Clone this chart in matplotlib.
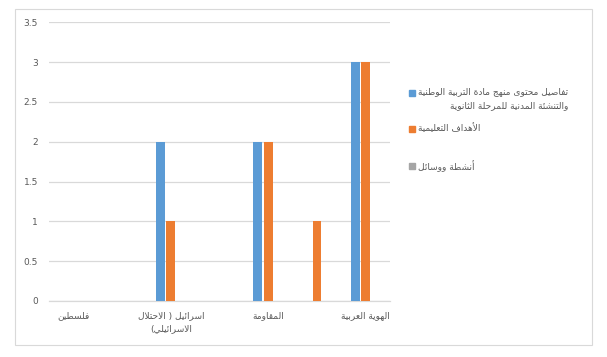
import numpy as np
import matplotlib
matplotlib.use("Agg")
import matplotlib.pyplot as plt
from matplotlib.patches import Rectangle

# 7 categories, only every other label is shown in the original (others unreadable)
categories = ["فلسطين", "", "اسرائيل ( الاحتلال\nالاسرائيلي)", "", "المقاومة", "", "الهوية العربية"]
series_names = ["تفاصيل محتوى منهج مادة التربية الوطنية\nوالتنشئة المدنية للمرحلة الثانوية",
                "الأهداف التعليمية",
                "أنشطة ووسائل"]
content = [0, 0, 2, 0, 2, 0, 3]
goals = [0, 0, 1, 0, 2, 1, 3]
activities = [0, 0, 0, 0, 0, 0, 0]
colours = ["#5B9BD5", "#ED7D31", "#A5A5A5"]
yticks = [0, 0.5, 1, 1.5, 2, 2.5, 3, 3.5]


# minimal arabic shaping (presentation forms) + visual reordering
FORMS = {
    "ء": (0xFE80, 1), "آ": (0xFE81, 2), "أ": (0xFE83, 2), "ؤ": (0xFE85, 2), "إ": (0xFE87, 2),
    "ئ": (0xFE89, 4), "ا": (0xFE8D, 2), "ب": (0xFE8F, 4), "ة": (0xFE93, 2), "ت": (0xFE95, 4),
    "ث": (0xFE99, 4), "ج": (0xFE9D, 4), "ح": (0xFEA1, 4), "خ": (0xFEA5, 4), "د": (0xFEA9, 2),
    "ذ": (0xFEAB, 2), "ر": (0xFEAD, 2), "ز": (0xFEAF, 2), "س": (0xFEB1, 4), "ش": (0xFEB5, 4),
    "ص": (0xFEB9, 4), "ض": (0xFEBD, 4), "ط": (0xFEC1, 4), "ظ": (0xFEC5, 4), "ع": (0xFEC9, 4),
    "غ": (0xFECD, 4), "ف": (0xFED1, 4), "ق": (0xFED5, 4), "ك": (0xFED9, 4), "ل": (0xFEDD, 4),
    "م": (0xFEE1, 4), "ن": (0xFEE5, 4), "ه": (0xFEE9, 4), "و": (0xFEED, 2), "ى": (0xFEEF, 2),
    "ي": (0xFEF1, 4),
    "لآ": (0xFEF5, 2), "لأ": (0xFEF7, 2), "لإ": (0xFEF9, 2), "لا": (0xFEFB, 2),
}
MIRROR = {"(": ")", ")": "("}


def shape_line(s):
    toks = []
    i = 0
    while i < len(s):
        if s[i] == "ل" and i + 1 < len(s) and s[i:i + 2] in FORMS:
            toks.append(s[i:i + 2])
            i += 2
        else:
            toks.append(s[i])
            i += 1
    out = []
    for k, t in enumerate(toks):
        if t not in FORMS:
            out.append(MIRROR.get(t, t))
            continue
        base, n = FORMS[t]
        prev = toks[k - 1] if k > 0 else None
        nxt = toks[k + 1] if k + 1 < len(toks) else None
        p = prev in FORMS and FORMS[prev][1] == 4
        q = n == 4 and nxt in FORMS
        if p and q:
            idx = 3
        elif p:
            idx = 1
        elif q:
            idx = 2
        else:
            idx = 0
        if n < 2:
            idx = 0
        out.append(chr(base + idx))
    return "".join(out[::-1])


def ar(s):
    return "\n".join(shape_line(l) for l in s.split("\n"))


W, H = 607, 357
fig = plt.figure(figsize=(W / 100, H / 100), dpi=100)
fig.patch.set_facecolor("white")
fig.patches.append(Rectangle((15 / W, 1 - 345 / H), 577 / W, 336 / H, transform=fig.transFigure,
                             fill=False, edgecolor="#D9D9D9", lw=0.8))

ax = fig.add_axes([49 / W, 1 - 301 / H, 341 / W, 278.6 / H])
x = np.arange(len(categories))
w = 0.18
off = 0.213
for i, (vals, c) in enumerate(zip([content, goals, activities], colours)):
    ax.bar(x + (i - 1) * off, vals, width=w, color=c, zorder=3)

ax.set_xlim(-0.5, len(categories) - 0.5)
ax.set_ylim(0, 3.5)
ax.set_yticks(yticks)
ax.set_yticklabels([f"{v:g}" for v in yticks])
ax.set_xticks(x)
ax.set_xticklabels([ar(c) for c in categories], linespacing=1.6)
ax.yaxis.grid(True, color="#D9D9D9", lw=0.9, zorder=0)
for s in ["top", "right", "left"]:
    ax.spines[s].set_visible(False)
ax.spines["bottom"].set_color("#D9D9D9")
ax.spines["bottom"].set_linewidth(0.9)
ax.tick_params(axis="both", length=0, colors="#595959", labelsize=6.5)
ax.tick_params(axis="y", pad=8)
ax.tick_params(axis="x", pad=7)

# legend on the right: marker then text block (lines right-aligned inside it)
leg_y = [92, 128, 165]
for name, c, yy in zip(series_names, colours, leg_y):
    fig.patches.append(Rectangle((409 / W, 1 - (yy + 4) / H), 6 / W, 6 / H,
                                 transform=fig.transFigure, color=c))
    fig.text(418 / W, 1 - (yy - 5) / H, ar(name), ha="left", va="top", fontsize=6.5,
             color="#595959", multialignment="right", linespacing=1.75)

fig.savefig("out.png", dpi=100)
